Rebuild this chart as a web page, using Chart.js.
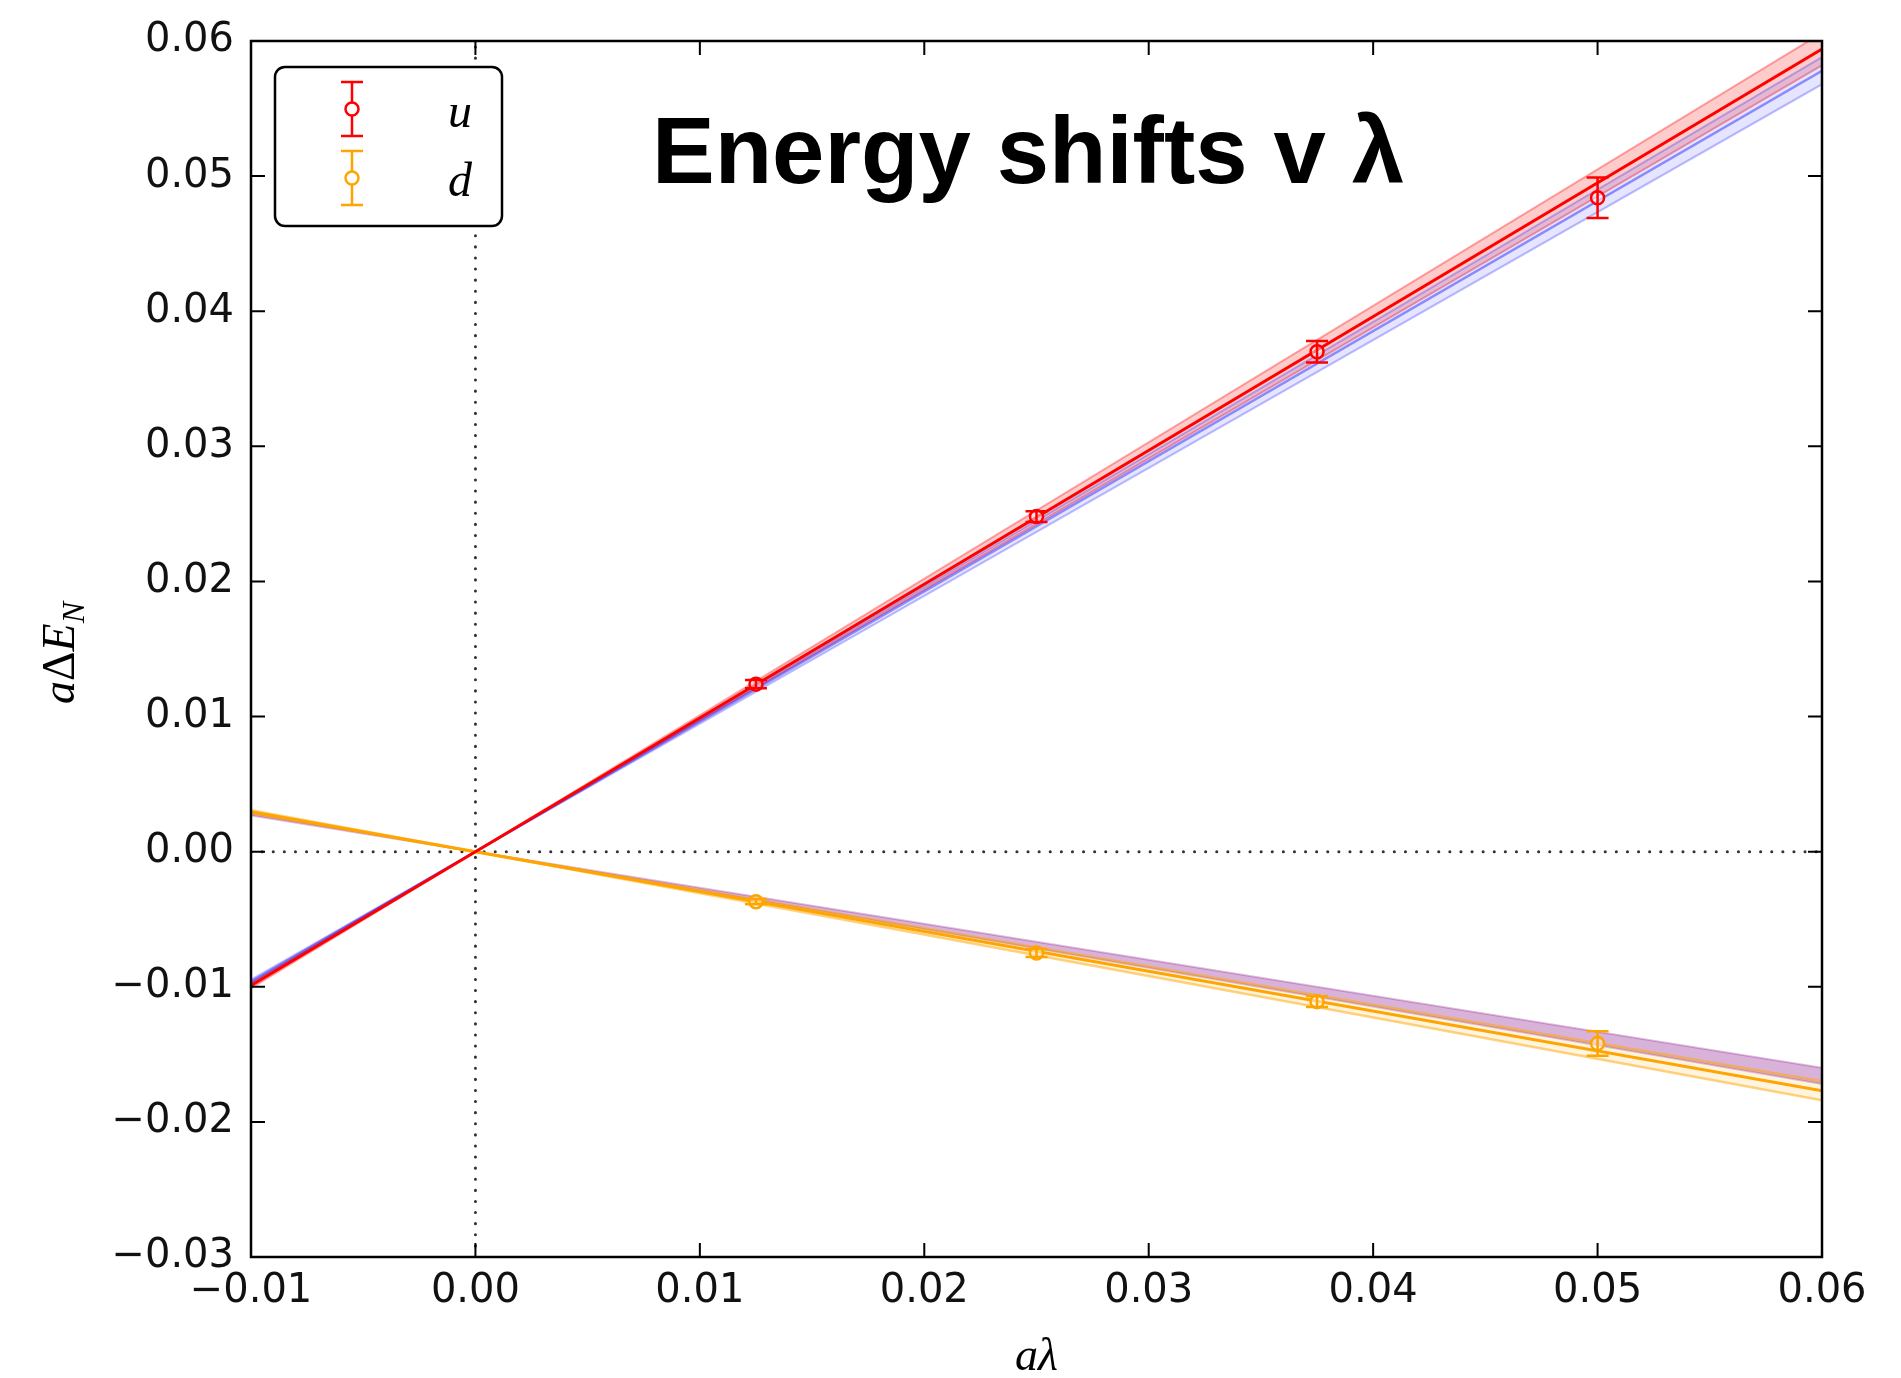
<!DOCTYPE html>
<html lang="en">
<head>
<meta charset="UTF-8">
<title>Energy shifts v λ</title>
<script src="https://cdn.jsdelivr.net/npm/chart.js"></script>
<style>
  html, body { margin: 0; padding: 0; background: #fff; }
</style>
</head>
<body>
<canvas id="shiftChart" width="1901" height="1378"></canvas>
<script>
// lambda values of the four runs and the measured energy shifts
const lambdaVals = [0.0125, 0.025, 0.0375, 0.05];
const uShift = [0.0124, 0.0248, 0.0370, 0.0484];
const uErr = [0.0003, 0.0004, 0.0008, 0.0015];
const dShift = [-0.0037, -0.0075, -0.0111, -0.0142];
const dErr = [0.0002, 0.0003, 0.0004, 0.0009];

// fit lines (all go through the origin), sampled at these lambdas
const fitX = [-0.01, 0, 0.06];
const uRedFit = [-0.0099, 0, 0.0594];
const uRedHi = [-0.0101, 0, 0.0606];
const uRedLo = [-0.0097, 0, 0.0582];
const uBlueFit = [-0.00963, 0, 0.0578];
const uBlueHi = [-0.0098, 0, 0.0588];
const uBlueLo = [-0.00947, 0, 0.0568];
const dOrangeFit = [0.00295, 0, -0.0177];
const dOrangeHi = [0.00283, 0, -0.0170];
const dOrangeLo = [0.00307, 0, -0.0184];
const dPurpleHi = [0.00267, 0, -0.0160];
const dPurpleLo = [0.00287, 0, -0.0172];

// axis ranges
const xTicks = { min: -0.01, max: 0.06, step: 0.01 };
const yTicks = { min: -0.03, max: 0.06, step: 0.01 };

const pts = (xs, ys) => xs.map((x, i) => ({ x: x, y: ys[i] }));

function fitLine(ys, color, width, order, fill, bg) {
  return {
    data: pts(fitX, ys),
    showLine: true,
    pointRadius: 0,
    borderColor: color,
    borderWidth: width,
    backgroundColor: bg || 'transparent',
    fill: fill || false,
    order: order
  };
}

function zeroLine(data) {
  return { data: data, showLine: true, pointRadius: 0, borderColor: '#333',
           borderWidth: 3, borderDash: [0.1, 11], borderCapStyle: 'round', order: 20 };
}

const tickFont = { family: 'DejaVu Sans', size: 40 };
function fmt(v) {
  const s = Math.abs(v) < 1e-9 ? '0.00' : v.toFixed(2);
  return s.replace('-', '\u2212');
}

// error bars, drawn from the scales
const errorBars = {
  id: 'errorBars',
  afterDatasetsDraw(chart) {
    const ctx = chart.ctx, xs = chart.scales.x, ys = chart.scales.y;
    const sets = [[uShift, uErr, '#ff0000'], [dShift, dErr, '#ffa500']];
    ctx.save();
    ctx.lineWidth = 2.5;
    sets.forEach(([vals, errs, col]) => {
      ctx.strokeStyle = col;
      lambdaVals.forEach((lx, i) => {
        const px = xs.getPixelForValue(lx);
        const top = ys.getPixelForValue(vals[i] + errs[i]);
        const bot = ys.getPixelForValue(vals[i] - errs[i]);
        ctx.beginPath();
        ctx.moveTo(px, top); ctx.lineTo(px, bot);
        ctx.moveTo(px - 11, top); ctx.lineTo(px + 11, top);
        ctx.moveTo(px - 11, bot); ctx.lineTo(px + 11, bot);
        ctx.stroke();
      });
    });
    ctx.restore();
  }
};

// frame, inward ticks, title, axis labels and legend
const decorations = {
  id: 'decorations',
  afterDraw(chart) {
    const ctx = chart.ctx, a = chart.chartArea;
    const xs = chart.scales.x, ys = chart.scales.y;
    ctx.save();
    ctx.strokeStyle = '#000';
    ctx.lineWidth = 2.5;
    ctx.strokeRect(a.left, a.top, a.right - a.left, a.bottom - a.top);

    ctx.lineWidth = 2;
    const tl = 14;
    ctx.beginPath();
    for (let v = xTicks.min; v <= xTicks.max + 1e-9; v += xTicks.step) {
      const px = xs.getPixelForValue(v);
      ctx.moveTo(px, a.bottom); ctx.lineTo(px, a.bottom - tl);
      ctx.moveTo(px, a.top); ctx.lineTo(px, a.top + tl);
    }
    for (let v = yTicks.min; v <= yTicks.max + 1e-9; v += yTicks.step) {
      const py = ys.getPixelForValue(v);
      ctx.moveTo(a.left, py); ctx.lineTo(a.left + tl, py);
      ctx.moveTo(a.right, py); ctx.lineTo(a.right - tl, py);
    }
    ctx.stroke();

    // title
    ctx.fillStyle = '#000';
    ctx.font = 'bold 94px "Liberation Sans", Arial, sans-serif';
    ctx.textAlign = 'left';
    ctx.textBaseline = 'alphabetic';
    ctx.fillText('Energy shifts v \u03bb', a.left + 401, a.top + 142);

    // x axis label
    const it = 'italic 46px "Liberation Serif", serif';
    ctx.font = it;
    ctx.textAlign = 'center';
    ctx.fillText('a\u03bb', (a.left + a.right) / 2, 1370);

    // y axis label: a Delta E_N
    const parts = [
      ['a', it, 0], ['\u0394', '46px "Liberation Serif", serif', 0],
      ['E', it, 0], ['N', 'italic 32px "Liberation Serif", serif', 10]
    ];
    let total = 0;
    parts.forEach(p => { ctx.font = p[1]; total += ctx.measureText(p[0]).width; });
    ctx.translate(74, (a.top + a.bottom) / 2 + 4);
    ctx.rotate(-Math.PI / 2);
    ctx.textAlign = 'left';
    let cx = -total / 2;
    parts.forEach(p => {
      ctx.font = p[1];
      ctx.fillText(p[0], cx, p[2]);
      cx += ctx.measureText(p[0]).width;
    });
    ctx.setTransform(1, 0, 0, 1, 0, 0);

    // legend box
    const lx = a.left + 24, ly = a.top + 26, lw = 227, lh = 159, r = 10;
    ctx.beginPath();
    ctx.moveTo(lx + r, ly);
    ctx.arcTo(lx + lw, ly, lx + lw, ly + lh, r);
    ctx.arcTo(lx + lw, ly + lh, lx, ly + lh, r);
    ctx.arcTo(lx, ly + lh, lx, ly, r);
    ctx.arcTo(lx, ly, lx + lw, ly, r);
    ctx.closePath();
    ctx.fillStyle = '#fff';
    ctx.fill();
    ctx.strokeStyle = '#000';
    ctx.lineWidth = 2.5;
    ctx.stroke();

    const entries = [['u', '#ff0000', ly + 42], ['d', '#ffa500', ly + 111]];
    entries.forEach(([label, col, cy]) => {
      const gx = a.left + 101;
      ctx.strokeStyle = col;
      ctx.lineWidth = 2.5;
      ctx.beginPath();
      ctx.moveTo(gx, cy - 27); ctx.lineTo(gx, cy + 27);
      ctx.moveTo(gx - 11, cy - 27); ctx.lineTo(gx + 11, cy - 27);
      ctx.moveTo(gx - 11, cy + 27); ctx.lineTo(gx + 11, cy + 27);
      ctx.stroke();
      ctx.beginPath();
      ctx.arc(gx, cy, 6.5, 0, Math.PI * 2);
      ctx.fillStyle = '#fff';
      ctx.fill();
      ctx.stroke();
      ctx.fillStyle = '#000';
      ctx.font = 'italic 48px "Liberation Serif", serif';
      ctx.textAlign = 'left';
      ctx.fillText(label, a.left + 197, cy + 18);
    });
    ctx.restore();
  }
};

new Chart(document.getElementById('shiftChart'), {
  type: 'scatter',
  data: {
    datasets: [
      // zero reference lines
      zeroLine([{ x: 0, y: yTicks.min }, { x: 0, y: yTicks.max }]),
      zeroLine([{ x: xTicks.min, y: 0 }, { x: xTicks.max, y: 0 }]),

      // u: red fit with band
      fitLine(uRedHi, 'rgba(255,0,0,0.35)', 2, 12, '+1', 'rgba(255,0,0,0.2)'),
      fitLine(uRedLo, 'rgba(255,0,0,0.35)', 2, 11),
      // u: blue fit with band
      fitLine(uBlueHi, 'rgba(0,0,255,0.25)', 2, 10, '+1', 'rgba(0,0,255,0.1)'),
      fitLine(uBlueLo, 'rgba(0,0,255,0.25)', 2, 9),
      fitLine(uBlueFit, 'rgba(0,0,255,0.4)', 2.5, 8),
      fitLine(uRedFit, '#ff0000', 3, 4),

      // d: purple band
      fitLine(dPurpleHi, 'rgba(128,0,128,0.25)', 2, 10, '+1', 'rgba(128,0,128,0.3)'),
      fitLine(dPurpleLo, 'rgba(128,0,128,0.25)', 2, 9),
      // d: orange fit with band
      fitLine(dOrangeHi, 'rgba(255,165,0,0.5)', 2.5, 7, '+1', 'rgba(255,165,0,0.12)'),
      fitLine(dOrangeLo, 'rgba(255,165,0,0.5)', 2.5, 6),
      fitLine(dOrangeFit, '#ffa500', 3, 5),

      // measured points
      { data: pts(lambdaVals, uShift), pointRadius: 6.5, pointBorderWidth: 2.5,
        pointBorderColor: '#ff0000', pointBackgroundColor: 'rgba(255,255,255,0.5)', order: 1 },
      { data: pts(lambdaVals, dShift), pointRadius: 6.5, pointBorderWidth: 2.5,
        pointBorderColor: '#ffa500', pointBackgroundColor: 'rgba(255,255,255,0.5)', order: 1 }
    ]
  },
  options: {
    responsive: false,
    animation: false,
    layout: { padding: { top: 40, right: 79, left: 0, bottom: 0 } },
    plugins: { legend: { display: false }, tooltip: { enabled: false } },
    scales: {
      x: {
        type: 'linear', min: xTicks.min, max: xTicks.max,
        grid: { display: false, drawTicks: false }, border: { display: false },
        ticks: { stepSize: xTicks.step, padding: 11, font: tickFont, color: '#111',
                 maxRotation: 0, autoSkip: false, callback: fmt },
        afterFit: s => { s.height = 121; }
      },
      y: {
        type: 'linear', min: yTicks.min, max: yTicks.max,
        grid: { display: false, drawTicks: false }, border: { display: false },
        ticks: { stepSize: yTicks.step, padding: 17, font: tickFont, color: '#111',
                 autoSkip: false, callback: fmt },
        afterFit: s => { s.width = 251; }
      }
    }
  },
  plugins: [errorBars, decorations]
});
</script>
</body>
</html>
